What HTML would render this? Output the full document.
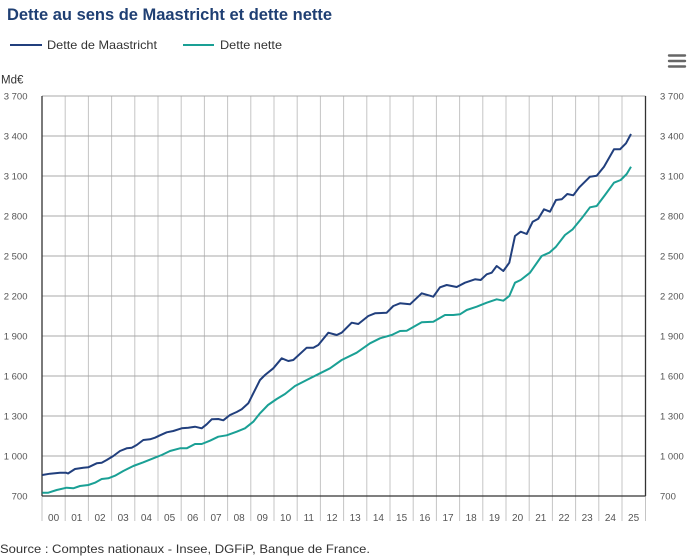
<!DOCTYPE html>
<html>
<head>
<meta charset="utf-8">
<style>
html,body{margin:0;padding:0;background:#fff;}
svg{display:block;}
text{font-family:"Liberation Sans",Arial,sans-serif;}
</style>
</head>
<body>
<svg width="687" height="557" viewBox="0 0 687 557" xmlns="http://www.w3.org/2000/svg">
<rect width="687" height="557" fill="#fff"/>
<!-- Title -->
<text x="7" y="20" font-size="17" font-weight="bold" fill="#1f3f73" textLength="325" lengthAdjust="spacingAndGlyphs">Dette au sens de Maastricht et dette nette</text>
<!-- Legend -->
<line x1="10" y1="45" x2="42" y2="45" stroke="#213f7d" stroke-width="2"/>
<text x="47" y="49" font-size="12" fill="#333" textLength="110" lengthAdjust="spacingAndGlyphs">Dette de Maastricht</text>
<line x1="183" y1="45" x2="214" y2="45" stroke="#1aa095" stroke-width="2"/>
<text x="220" y="49" font-size="12" fill="#333" textLength="62" lengthAdjust="spacingAndGlyphs">Dette nette</text>
<!-- Hamburger -->
<g stroke="#666" stroke-width="2.4" stroke-linecap="round">
<line x1="669" y1="55.5" x2="685" y2="55.5"/>
<line x1="669" y1="61" x2="685" y2="61"/>
<line x1="669" y1="66.5" x2="685" y2="66.5"/>
</g>
<!-- Unit -->
<text x="1" y="83.5" font-size="11.5" fill="#333">Md€</text>
<!-- Vertical gridlines & ticks -->
<g stroke="#c4c4c4" stroke-width="1">
<line x1="65.2" y1="96" x2="65.2" y2="521"/>
<line x1="88.4" y1="96" x2="88.4" y2="521"/>
<line x1="111.6" y1="96" x2="111.6" y2="521"/>
<line x1="134.8" y1="96" x2="134.8" y2="521"/>
<line x1="158" y1="96" x2="158" y2="521"/>
<line x1="181.2" y1="96" x2="181.2" y2="521"/>
<line x1="204.4" y1="96" x2="204.4" y2="521"/>
<line x1="227.6" y1="96" x2="227.6" y2="521"/>
<line x1="250.8" y1="96" x2="250.8" y2="521"/>
<line x1="274" y1="96" x2="274" y2="521"/>
<line x1="297.2" y1="96" x2="297.2" y2="521"/>
<line x1="320.4" y1="96" x2="320.4" y2="521"/>
<line x1="343.6" y1="96" x2="343.6" y2="521"/>
<line x1="366.8" y1="96" x2="366.8" y2="521"/>
<line x1="390" y1="96" x2="390" y2="521"/>
<line x1="413.2" y1="96" x2="413.2" y2="521"/>
<line x1="436.4" y1="96" x2="436.4" y2="521"/>
<line x1="459.6" y1="96" x2="459.6" y2="521"/>
<line x1="482.8" y1="96" x2="482.8" y2="521"/>
<line x1="506" y1="96" x2="506" y2="521"/>
<line x1="529.2" y1="96" x2="529.2" y2="521"/>
<line x1="552.4" y1="96" x2="552.4" y2="521"/>
<line x1="575.6" y1="96" x2="575.6" y2="521"/>
<line x1="598.8" y1="96" x2="598.8" y2="521"/>
<line x1="622" y1="96" x2="622" y2="521"/>
<line x1="42" y1="496" x2="42" y2="521"/>
<line x1="645.5" y1="496" x2="645.5" y2="521"/>
</g>
<!-- Horizontal gridlines -->
<g stroke="#a8a8a8" stroke-width="1">
<line x1="42" y1="96" x2="645.5" y2="96"/>
<line x1="42" y1="136" x2="645.5" y2="136"/>
<line x1="42" y1="176" x2="645.5" y2="176"/>
<line x1="42" y1="216" x2="645.5" y2="216"/>
<line x1="42" y1="256" x2="645.5" y2="256"/>
<line x1="42" y1="296" x2="645.5" y2="296"/>
<line x1="42" y1="336" x2="645.5" y2="336"/>
<line x1="42" y1="376" x2="645.5" y2="376"/>
<line x1="42" y1="416" x2="645.5" y2="416"/>
<line x1="42" y1="456" x2="645.5" y2="456"/>
</g>
<!-- Axes -->
<g stroke="#333" stroke-width="1.3">
<line x1="42" y1="96" x2="42" y2="496"/>
<line x1="645.5" y1="96" x2="645.5" y2="496"/>
<line x1="42" y1="496" x2="645.5" y2="496"/>
</g>
<!-- Left labels -->
<g font-size="9.5" fill="#555" text-anchor="end">
<text x="27.5" y="99.5">3 700</text>
<text x="27.5" y="139.5">3 400</text>
<text x="27.5" y="179.5">3 100</text>
<text x="27.5" y="219.5">2 800</text>
<text x="27.5" y="259.5">2 500</text>
<text x="27.5" y="299.5">2 200</text>
<text x="27.5" y="339.5">1 900</text>
<text x="27.5" y="379.5">1 600</text>
<text x="27.5" y="419.5">1 300</text>
<text x="27.5" y="459.5">1 000</text>
<text x="27.5" y="499.5">700</text>
</g>
<!-- Right labels -->
<g font-size="9.5" fill="#555">
<text x="660" y="99.5">3 700</text>
<text x="660" y="139.5">3 400</text>
<text x="660" y="179.5">3 100</text>
<text x="660" y="219.5">2 800</text>
<text x="660" y="259.5">2 500</text>
<text x="660" y="299.5">2 200</text>
<text x="660" y="339.5">1 900</text>
<text x="660" y="379.5">1 600</text>
<text x="660" y="419.5">1 300</text>
<text x="660" y="459.5">1 000</text>
<text x="660" y="499.5">700</text>
</g>
<!-- X labels -->
<g font-size="10" fill="#555" text-anchor="middle">
<text x="53.6" y="521">00</text>
<text x="76.8" y="521">01</text>
<text x="100" y="521">02</text>
<text x="123.2" y="521">03</text>
<text x="146.4" y="521">04</text>
<text x="169.6" y="521">05</text>
<text x="192.8" y="521">06</text>
<text x="216" y="521">07</text>
<text x="239.2" y="521">08</text>
<text x="262.4" y="521">09</text>
<text x="285.6" y="521">10</text>
<text x="308.8" y="521">11</text>
<text x="332" y="521">12</text>
<text x="355.2" y="521">13</text>
<text x="378.4" y="521">14</text>
<text x="401.6" y="521">15</text>
<text x="424.8" y="521">16</text>
<text x="448" y="521">17</text>
<text x="471.2" y="521">18</text>
<text x="494.4" y="521">19</text>
<text x="517.6" y="521">20</text>
<text x="540.8" y="521">21</text>
<text x="564" y="521">22</text>
<text x="587.2" y="521">23</text>
<text x="610.4" y="521">24</text>
<text x="633.6" y="521">25</text>
</g>
<!-- Dette nette -->
<polyline fill="none" stroke="#1aa095" stroke-width="2" stroke-linejoin="round" points="42.3,492.7 48.3,492.7 56.7,490 66.7,487.7 73.3,488.3 80,486 88.3,485 95,482.7 101.7,479 108.3,478.3 115,475.7 123.3,471 133.3,466 143.3,462.3 153.3,458.3 161.7,455 170,451 180,448.3 186.7,448.3 195,444 201.7,444 210,440.7 218.3,436.7 226.7,435.3 236.7,431.7 245,428.3 253.3,421.7 260,413.3 268,405 276.7,399 285,394 295,386 306.7,380 320,373.3 330,368.3 341.7,360 356.7,352.7 370,343.3 380,338.3 391.7,335 400,331 406.7,330.7 421.7,322.3 433.3,321.7 445,315 453.3,315 460,314.3 466.7,310 476.7,306.7 486.7,302.7 496.7,299.3 503.3,300.7 509.3,296 515,282.7 520.7,280 530,272.7 541.7,256 549.3,252.7 556,246.7 565,235 572.7,229.3 581.7,218.3 590,207.3 596.7,206 605,195 614,182.7 620.7,180 626.7,174 631,166.7"/>
<!-- Dette de Maastricht -->
<polyline fill="none" stroke="#213f7d" stroke-width="2" stroke-linejoin="round" points="42.3,475 50,473.7 60,472.7 66,472.7 68,473.5 75,469 83.3,467.7 88.3,467.3 96.7,463.3 101.7,462.7 106.7,460 113.3,456 120,451 126.7,448.3 131.7,447.7 136.7,445 143.3,440 150,439.3 155,437.7 160,435.3 166.7,432.3 173.3,431 181.7,428.3 188.3,427.7 195,426.7 201.7,428.3 206.7,424.3 211.7,419.3 218.3,419 223.3,420.3 230,415 236.7,412 241.7,409.3 248.3,403.3 253.3,393.3 260,380 265,375 273.3,368.3 281.7,358.3 288.3,361 293.3,360 306.7,347.7 313.3,347.7 318.3,345 328.3,332.7 336.7,335 341.7,332.7 351.7,322.7 358.3,324 368.3,316 375,313.3 386.7,312.7 393.3,306 400,303.3 410,304.3 421.7,293.3 433.3,296.7 440,287.3 446.7,285 456.7,287 465,282.7 475,279.3 480.7,280 486.7,274.3 491.7,272.7 496.7,266 503.3,271 509.3,262.7 515,236 520.7,231.7 526.7,234 532.7,221.7 538.3,218.7 544,209.3 550,211.7 556,200 561.7,199.3 567.3,194 573.3,195.3 579.3,187.3 590,176.7 596.7,175.7 604,166.7 614,149.3 620,149.3 626,143.3 631,134"/>
<!-- Source -->
<text x="0" y="553" font-size="12" fill="#333" textLength="370" lengthAdjust="spacingAndGlyphs">Source : Comptes nationaux - Insee, DGFiP, Banque de France.</text>
</svg>
</body>
</html>
